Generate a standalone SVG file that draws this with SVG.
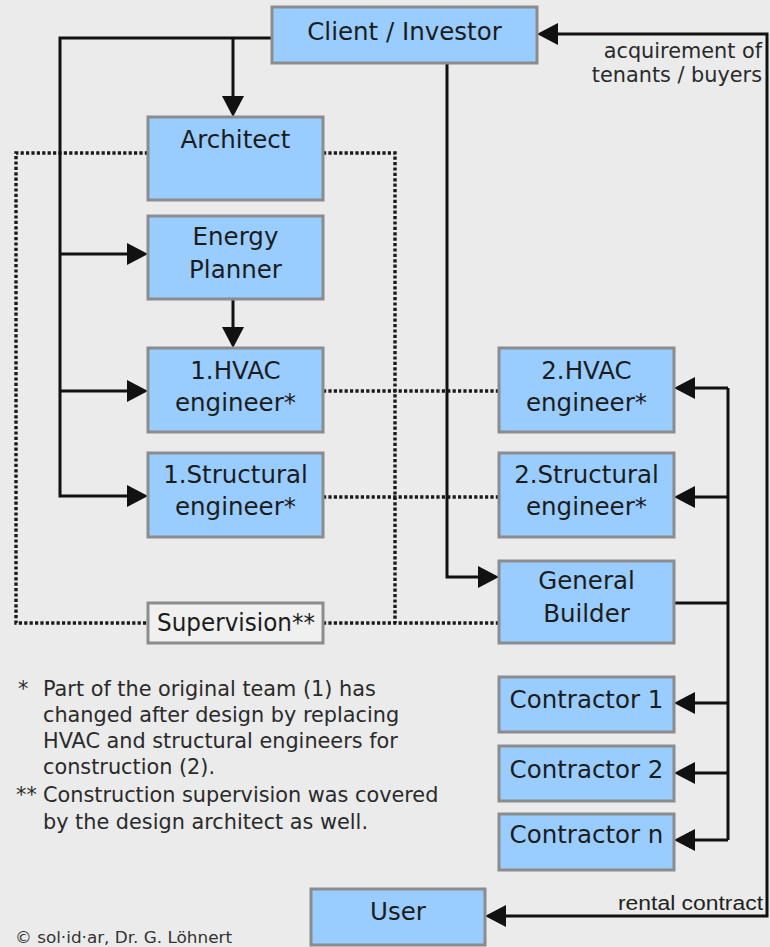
<svg xmlns="http://www.w3.org/2000/svg" width="770" height="947" viewBox="0 0 770 947">
<style>
.bx{fill:#99ccff;stroke:#8c8c8c;stroke-width:3}
.sv{fill:#f0f0f0;stroke:#8c8c8c;stroke-width:3}
.t{font-family:"DejaVu Sans",Verdana,sans-serif;font-size:24.5px;fill:#1c1c1c;text-anchor:middle}
.fn{font-family:"DejaVu Sans",Verdana,sans-serif;font-size:20.8px;fill:#2a2a2a}
.ln{fill:none;stroke:#111;stroke-width:3}
.dt{fill:none;stroke:#1a1a1a;stroke-width:3.4;stroke-dasharray:3.2 2.2}
</style>
<defs>
<marker id="ah" markerUnits="userSpaceOnUse" markerWidth="22" markerHeight="22" viewBox="0 0 21 22" refX="17" refY="11" orient="auto-start-reverse">
<path d="M0,0 L21,11 L0,22 z" fill="#111"/>
</marker>
</defs>
<rect width="770" height="947" fill="#ebebeb"/>

<g id="connectors">
<path class="dt" d="M148 153 H16 V623 H148"/>
<path class="dt" d="M323 153 H395 V623"/>
<path class="dt" d="M323 623 H499"/>
<path class="dt" d="M323 391 H499"/>
<path class="dt" d="M323 497 H499"/>
<path class="ln" d="M272 38 H60 V496 H144" marker-end="url(#ah)"/>
<path class="ln" d="M233 38 V113" marker-end="url(#ah)"/>
<path class="ln" d="M60 254 H144" marker-end="url(#ah)"/>
<path class="ln" d="M60 391 H144" marker-end="url(#ah)"/>
<path class="ln" d="M233 299 V344" marker-end="url(#ah)"/>
<path class="ln" d="M447 63 V577 H495" marker-end="url(#ah)"/>
<path class="ln" d="M541 34 H767 V916 H489" marker-start="url(#ah)" marker-end="url(#ah)"/>
<path class="ln" d="M674 603 H728"/>
<path class="ln" d="M728 388 V840"/>
<path class="ln" d="M728 388 H678" marker-end="url(#ah)"/>
<path class="ln" d="M728 497 H678" marker-end="url(#ah)"/>
<path class="ln" d="M728 703 H678" marker-end="url(#ah)"/>
<path class="ln" d="M728 773 H678" marker-end="url(#ah)"/>
<path class="ln" d="M728 840 H678" marker-end="url(#ah)"/>
</g>

<g id="client"><rect class="bx" x="272" y="7" width="265" height="56"/><text class="t" x="404.5" y="40">Client / Investor</text></g>
<g id="architect"><rect class="bx" x="148" y="117" width="175" height="83"/><text class="t" x="235.5" y="148">Architect</text></g>
<g id="energy"><rect class="bx" x="148" y="216" width="175" height="83"/><text class="t" x="235.5" y="245">Energy</text><text class="t" x="235.5" y="278">Planner</text></g>
<g id="hvac1"><rect class="bx" x="148" y="348" width="175" height="84"/><text class="t" x="235.5" y="379">1.HVAC</text><text class="t" x="235.5" y="411">engineer*</text></g>
<g id="struct1"><rect class="bx" x="148" y="453" width="175" height="84"/><text class="t" x="235.5" y="483">1.Structural</text><text class="t" x="235.5" y="515">engineer*</text></g>
<g id="supervision"><rect class="sv" x="148" y="603" width="175" height="40"/><text class="t" x="236" y="631" textLength="158" lengthAdjust="spacingAndGlyphs">Supervision**</text></g>
<g id="hvac2"><rect class="bx" x="499" y="348" width="175" height="84"/><text class="t" x="586.5" y="379">2.HVAC</text><text class="t" x="586.5" y="411">engineer*</text></g>
<g id="struct2"><rect class="bx" x="499" y="453" width="175" height="84"/><text class="t" x="586.5" y="483">2.Structural</text><text class="t" x="586.5" y="515">engineer*</text></g>
<g id="builder"><rect class="bx" x="499" y="561" width="175" height="82"/><text class="t" x="586.5" y="589">General</text><text class="t" x="586.5" y="622">Builder</text></g>
<g id="contractor1"><rect class="bx" x="499" y="677" width="175" height="55"/><text class="t" x="586.5" y="708">Contractor 1</text></g>
<g id="contractor2"><rect class="bx" x="499" y="746" width="175" height="55"/><text class="t" x="586.5" y="778">Contractor 2</text></g>
<g id="contractorn"><rect class="bx" x="499" y="814" width="175" height="56"/><text class="t" x="586.5" y="843">Contractor n</text></g>
<g id="user"><rect class="bx" x="311" y="889" width="174" height="56"/><text class="t" x="398" y="920">User</text></g>

<g id="labels">
<text class="fn" x="762" y="58" text-anchor="end">acquirement of</text>
<text class="fn" x="762" y="82" text-anchor="end">tenants / buyers</text>
<text x="763" y="910" text-anchor="end" font-family="Liberation Sans,Arial,sans-serif" font-size="19.5" fill="#222" textLength="145" lengthAdjust="spacingAndGlyphs">rental contract</text>
</g>

<g id="footnotes">
<text class="fn" x="18" y="696">*</text>
<text class="fn" x="43" y="696">Part of the original team (1) has</text>
<text class="fn" x="43" y="722">changed after design by replacing</text>
<text class="fn" x="43" y="748">HVAC and structural engineers for</text>
<text class="fn" x="43" y="774">construction (2).</text>
<text class="fn" x="16" y="802">**</text>
<text class="fn" x="43" y="802">Construction supervision was covered</text>
<text class="fn" x="43" y="829">by the design architect as well.</text>
<text x="15" y="943" font-family="DejaVu Sans,Verdana,sans-serif" font-size="16" fill="#333" textLength="217" lengthAdjust="spacingAndGlyphs">© sol·id·ar, Dr. G. Löhnert</text>
</g>
</svg>
